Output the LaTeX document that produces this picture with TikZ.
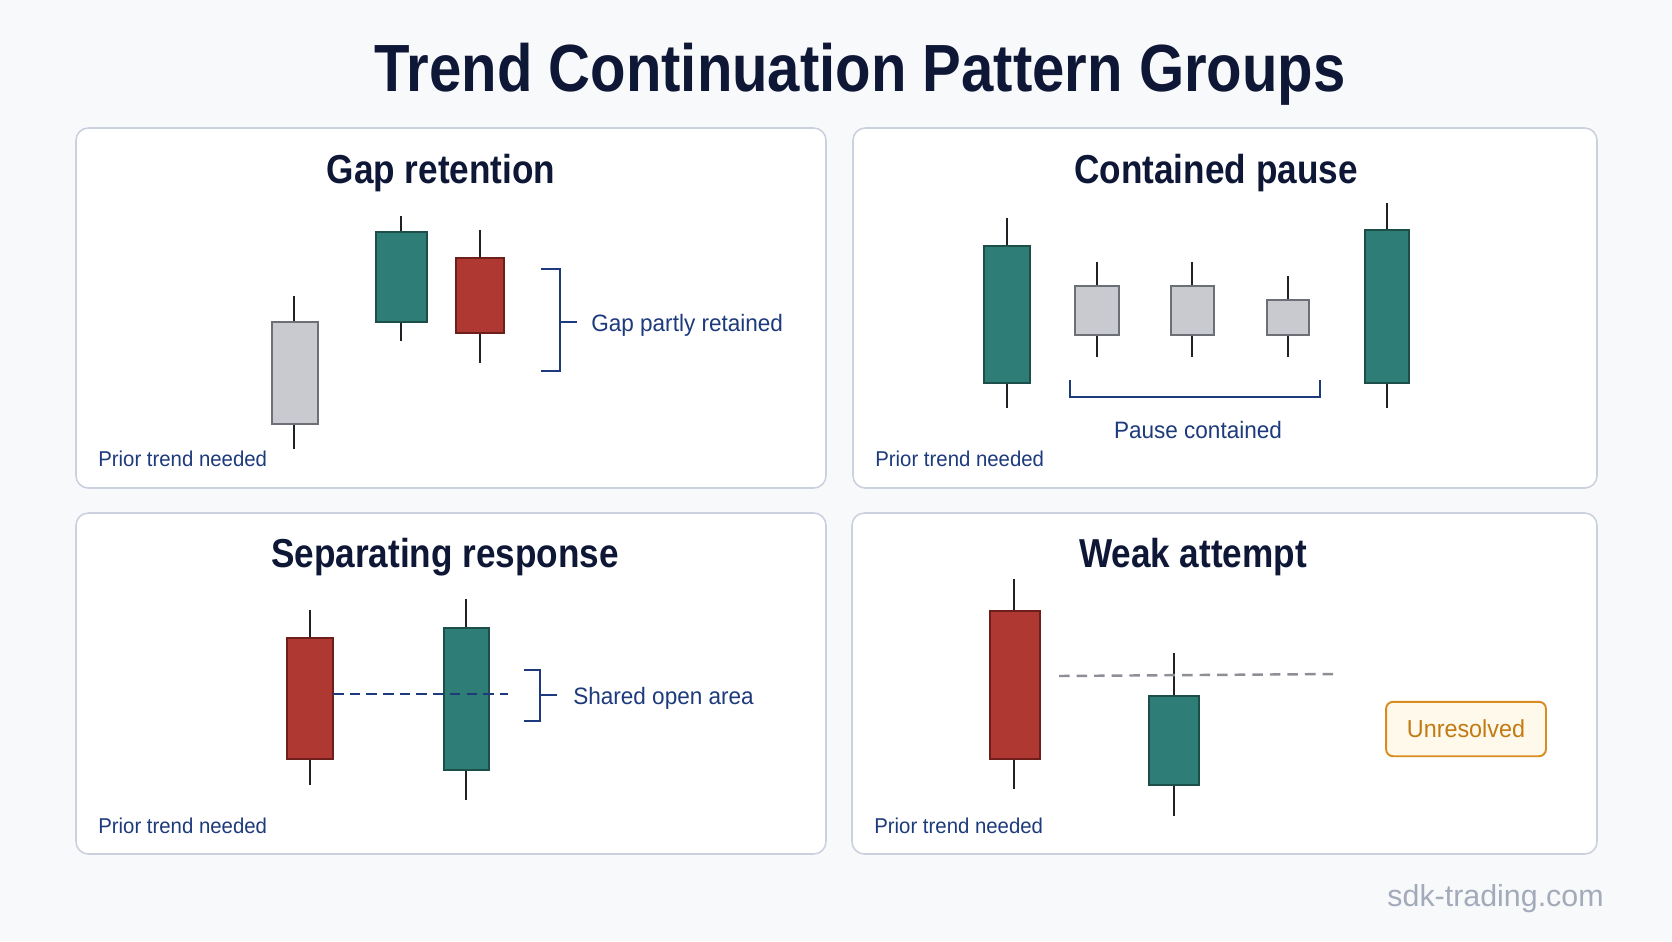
\documentclass[tikz,border=0pt]{standalone}
\usepackage{fontspec}
\setmainfont{Liberation Sans}
\newfontfamily\headfont[FakeStretch=0.87]{Liberation Sans}
\newfontfamily\labelfont[FakeStretch=0.95]{Liberation Sans}
\usetikzlibrary{positioning}

\definecolor{pagebg}{HTML}{F8F9FB}
\definecolor{panelline}{HTML}{CBD1DE}
\definecolor{navy}{HTML}{0E1836}
\definecolor{labelblue}{HTML}{1D3A7C}
\definecolor{tealfill}{HTML}{2E7D76}
\definecolor{tealline}{HTML}{1D4F4A}
\definecolor{redfill}{HTML}{AF3833}
\definecolor{redline}{HTML}{6E1F1C}
\definecolor{grayfill}{HTML}{C9CACF}
\definecolor{grayline}{HTML}{6C6F76}
\definecolor{wickcol}{HTML}{1E2126}
\definecolor{dashgray}{HTML}{8C8F96}
\definecolor{orangeline}{HTML}{D98C1F}
\definecolor{orangefill}{HTML}{FFF9EC}
\definecolor{orangetext}{HTML}{C27A12}
\definecolor{markgray}{HTML}{A3ABBB}

\begin{document}
\begin{tikzpicture}[x=0.02cm,y=-0.02cm,
    panel/.style={draw=panelline,line width=0.9pt,fill=white,rounded corners=7pt},
    paneltitle/.style={anchor=base,text=navy,font=\headfont\bfseries\fontsize{23}{26}\selectfont},
    note/.style={anchor=base west,inner sep=0pt,text=labelblue,font=\labelfont\fontsize{12.2}{14}\selectfont},
    tag/.style={inner sep=0pt,text=labelblue,font=\labelfont\fontsize{13.5}{16}\selectfont},
    wick/.style={draw=wickcol,line width=1.2pt},
    tealbody/.style={draw=tealline,fill=tealfill,line width=1.1pt},
    redbody/.style={draw=redline,fill=redfill,line width=1.1pt},
    graybody/.style={draw=grayline,fill=grayfill,line width=1.1pt},
    brace/.style={draw=labelblue,line width=1pt}]
    % \draw[step=100,gray,very thin] (0,0) grid (1672,941);
    \fill[pagebg] (0,0) rectangle (1672,941);
    \useasboundingbox (0,0) rectangle (1672,941);

    \node[anchor=base,text=navy,font=\headfont\bfseries\fontsize{38}{42}\selectfont] (title) at (860,91) {Trend Continuation Pattern Groups};

    \draw[panel] (76,128) rectangle (826,488);
    \draw[panel] (853,128) rectangle (1597,488);
    \draw[panel] (76,513) rectangle (826,854);
    \draw[panel] (852,513) rectangle (1597,854);

    % gap retention
    \node[paneltitle] (gaptitle) at (441,183) {Gap retention};
    \draw[wick] (294,296) -- (294,449);
    \draw[graybody] (272,322) rectangle (318,424);
    \draw[wick] (401,216) -- (401,341);
    \draw[tealbody] (376,232) rectangle (427,322);
    \draw[wick] (480,230) -- (480,363);
    \draw[redbody] (456,258) rectangle (504,333);
    \draw[brace] (541,269) -- (560,269) -- (560,371) -- (541,371);
    \draw[brace] (560,322) -- (577,322);
    \node[tag,anchor=base west] (gaplabel) at (591,331) {Gap partly retained};
    \node[note] (gapnote) at (98,466) {Prior trend needed};

    % contained pause
    \node[paneltitle] (pausetitle) at (1216,183) {Contained pause};
    \draw[wick] (1007,218) -- (1007,408);
    \draw[tealbody] (984,246) rectangle (1030,383);
    \draw[wick] (1097,262) -- (1097,357);
    \draw[graybody] (1075,286) rectangle (1119,335);
    \draw[wick] (1192,262) -- (1192,357);
    \draw[graybody] (1171,286) rectangle (1214,335);
    \draw[wick] (1288,276) -- (1288,357);
    \draw[graybody] (1267,300) rectangle (1309,335);
    \draw[wick] (1387,203) -- (1387,408);
    \draw[tealbody] (1365,230) rectangle (1409,383);
    \draw[brace] (1070,380) -- (1070,397) -- (1320,397) -- (1320,380);
    \node[tag,anchor=base] (pauselabel) at (1198,438) {Pause contained};
    \node[note] (pausenote) at (875,466) {Prior trend needed};

    % separating response
    \node[paneltitle] (septitle) at (445,567) {Separating response};
    \draw[wick] (310,610) -- (310,785);
    \draw[redbody] (287,638) rectangle (333,759);
    \draw[wick] (466,599) -- (466,800);
    \draw[tealbody] (444,628) rectangle (489,770);
    \draw[labelblue,line width=1.3pt,dash pattern=on 6pt off 3.5pt] (333,694) -- (508,694);
    \draw[brace] (524,670) -- (540,670) -- (540,721) -- (524,721);
    \draw[brace] (540,695) -- (557,695);
    \node[tag,anchor=base west] (seplabel) at (573,704) {Shared open area};
    \node[note] (sepnote) at (98,833) {Prior trend needed};

    % weak attempt
    \node[paneltitle] (weaktitle) at (1193,567) {Weak attempt};
    \draw[wick] (1014,579) -- (1014,789);
    \draw[redbody] (990,611) rectangle (1040,759);
    \draw[wick] (1174,653) -- (1174,816);
    \draw[tealbody] (1149,696) rectangle (1199,785);
    \draw[dashgray,line width=1.4pt,dash pattern=on 6pt off 4pt] (1059,676) -- (1337,674);
    \node[draw=orangeline,fill=orangefill,line width=1.1pt,rounded corners=4pt,
        minimum width=91pt,minimum height=31pt,text=orangetext,
        font=\labelfont\fontsize{14}{16}\selectfont] (unres) at (1466,729) {Unresolved};
    \node[note] (weaknote) at (874,833) {Prior trend needed};

    \node[anchor=base east,inner sep=0pt,text=markgray,font=\fontsize{17.3}{20}\selectfont] (mark) at (1604,906) {sdk-trading.com};
\end{tikzpicture}
\end{document}
